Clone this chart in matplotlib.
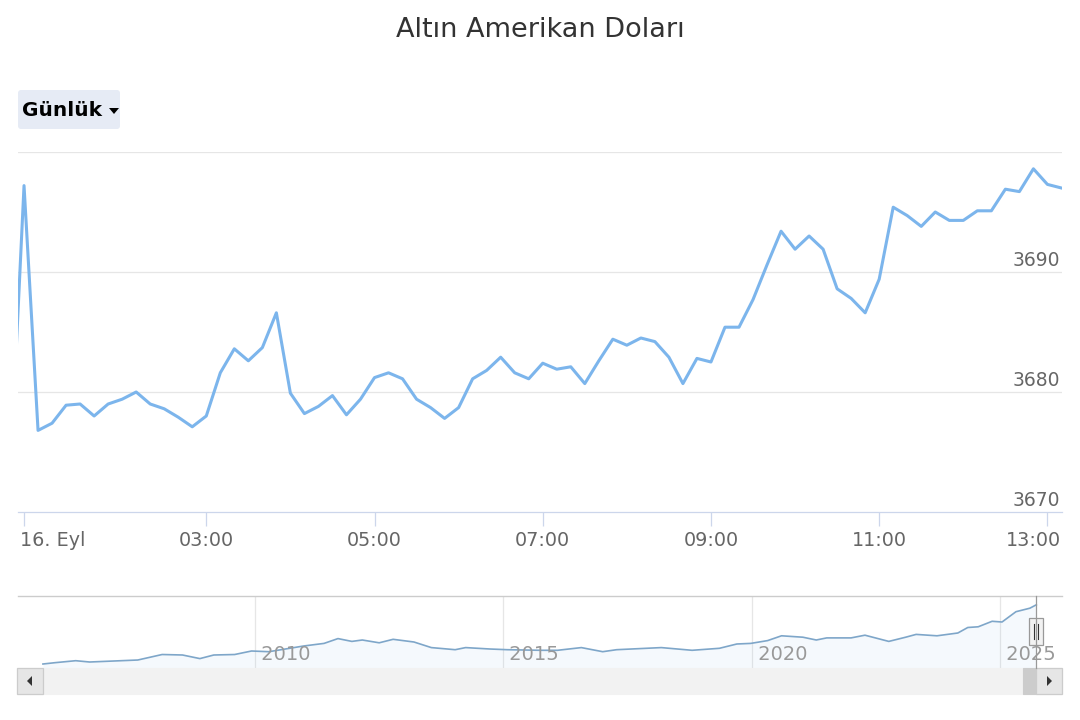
import numpy as np
import pandas as pd
import matplotlib
matplotlib.use("Agg")
import matplotlib.pyplot as plt
import matplotlib.transforms as mtrans
from matplotlib.patches import Rectangle, FancyBboxPatch, Polygon

# intraday gold price (USD/oz), 10-minute points, 16 Sep
price = [3672.7, 3697.2, 3676.8, 3677.4, 3678.9, 3679.0, 3678.0, 3679.0, 3679.4, 3680.0,
         3679.0, 3678.6, 3677.9, 3677.1, 3678.0, 3681.6, 3683.6, 3682.6, 3683.7, 3686.6,
         3679.9, 3678.2, 3678.8, 3679.7, 3678.1, 3679.4, 3681.2, 3681.6, 3681.1, 3679.4,
         3678.7, 3677.8, 3678.7, 3681.1, 3681.8, 3682.9, 3681.6, 3681.1, 3682.4, 3681.9,
         3682.1, 3680.7, 3682.6, 3684.4, 3683.9, 3684.5, 3684.2, 3682.9, 3680.7, 3682.8,
         3682.5, 3685.4, 3685.4, 3687.7, 3690.6, 3693.4, 3691.9, 3693.0, 3691.9, 3688.6,
         3687.8, 3686.6, 3689.4, 3695.4, 3694.7, 3693.8, 3695.0, 3694.3, 3694.3, 3695.1,
         3695.1, 3696.9, 3696.7, 3698.6, 3697.3, 3697.0]
times = pd.date_range("2025-09-16 00:40", periods=len(price), freq="10min")
tick_times = ["00:50", "03:00", "05:00", "07:00", "09:00", "11:00", "13:00"]
tick_labels = ["16. Eyl", "03:00", "05:00", "07:00", "09:00", "11:00", "13:00"]
y_ticks = [3670, 3680, 3690]

# navigator: long-run history (decimal year, USD/oz)
nav_year = [2005.73, 2005.97, 2006.39, 2006.67, 2007.64, 2008.13, 2008.54, 2008.89, 2009.17,
            2009.59, 2009.93, 2010.28, 2010.98, 2011.39, 2011.67, 2011.95, 2012.16, 2012.5,
            2012.78, 2013.2, 2013.55, 2014.03, 2014.24, 2014.73, 2015.08, 2015.75, 2016.09,
            2016.57, 2017.0, 2017.28, 2018.18, 2018.8, 2019.35, 2019.7, 2019.98, 2020.32,
            2020.6, 2021.03, 2021.3, 2021.51, 2022.0, 2022.28, 2022.76, 2023.1, 2023.31,
            2023.73, 2024.15, 2024.35, 2024.56, 2024.84, 2025.04, 2025.32, 2025.6, 2025.73]
nav_price = [450, 522, 632, 560, 670, 973, 946, 748, 946, 973, 1166, 1128, 1442, 1585, 1850,
             1695, 1772, 1618, 1810, 1662, 1354, 1238, 1354, 1276, 1238, 1205, 1205, 1354,
             1128, 1238, 1354, 1205, 1315, 1552, 1585, 1739, 2004, 1926, 1772, 1888, 1888,
             2037, 1695, 1926, 2081, 2004, 2158, 2461, 2500, 2803, 2764, 3331, 3524, 3711]
nav_years = [2010, 2015, 2020, 2025]

W, H = 1080, 720
fig = plt.figure(figsize=(W / 100, H / 100), dpi=100)
fig.patch.set_facecolor("white")

def fr(x0, y0, x1, y1):
    # pixel box -> figure fraction rect
    return [x0 / W, 1 - y1 / H, (x1 - x0) / W, (y1 - y0) / H]

LINE = "#7cb5ec"
GRID = "#e6e6e6"
LBL = "#666666"

# ---- main chart
ax = fig.add_axes(fr(18, 152, 1062, 512))
x = np.arange(len(price))
ax.plot(x, price, color=LINE, lw=2.2, solid_joinstyle="round", zorder=3)
ax.set_xlim(0.57, 75.04)
ax.set_ylim(3670, 3700)
ax.set_yticks([3680, 3690, 3700])
ax.yaxis.grid(True, color=GRID, lw=0.9)
ax.tick_params(axis="y", length=0, labelleft=False)
ax.set_axisbelow(True)
for s in ["top", "right", "left"]:
    ax.spines[s].set_visible(False)
ax.spines["bottom"].set_color("#ccd6eb")
ax.spines["bottom"].set_linewidth(0.9)

hhmm = list(times.strftime("%H:%M"))
tick_pos = [hhmm.index(t) for t in tick_times]
ax.set_xticks(tick_pos)
ax.set_xticklabels([])
ax.tick_params(axis="x", length=10, width=0.9, color="#ccd6eb")
# labels drawn by hand: first and last are nudged inside the plot like the original
xtr = mtrans.blended_transform_factory(ax.transData, ax.transAxes)
for i, (p, lab) in enumerate(zip(tick_pos, tick_labels)):
    ha, dx = "center", 0
    if i == 0:
        ha, dx = "left", -3
    elif i == len(tick_pos) - 1:
        ha, dx = "right", 10
    ax.annotate(lab, xy=(p, 0), xycoords=xtr, xytext=(dx, -14), textcoords="offset points",
                ha=ha, va="top", fontsize=13.8, color=LBL)

tr = mtrans.blended_transform_factory(ax.transAxes, ax.transData)
for v in y_ticks:
    ax.annotate(str(v), xy=(0.9985, v), xycoords=tr, xytext=(0, 1.2), textcoords="offset points",
                ha="right", va="bottom", fontsize=13.5, color=LBL)

# ---- navigator
nav = fig.add_axes(fr(18, 596, 1062, 668))
nav.fill_between(nav_year, nav_price, 0, color=LINE, alpha=0.07, lw=0)
nav.plot(nav_year, nav_price, color="#7ea6c9", lw=1.2)
nav.set_xlim(2005.228, 2026.247)
nav.set_ylim(230, 4196)
nav.set_xticks(nav_years)
nav.xaxis.grid(True, color=GRID, lw=0.9)
nav.set_axisbelow(True)
nav.tick_params(length=0, labelbottom=False, labelleft=False)
for s in ["bottom", "right", "left"]:
    nav.spines[s].set_visible(False)
nav.spines["top"].set_color("#cccccc")
nav.spines["top"].set_linewidth(1.0)
for yr in nav_years:
    nav.text(yr, 0.05, f" {yr}", transform=mtrans.blended_transform_factory(nav.transData, nav.transAxes),
             ha="left", va="bottom", fontsize=14, color="#999999", zorder=4)

# ---- UI overlay: range button, handle, scrollbar
ui = fig.add_axes([0, 0, 1, 1], zorder=5)
ui.set_xlim(0, W); ui.set_ylim(H, 0); ui.axis("off")
ui.patch.set_alpha(0)

ui.add_patch(FancyBboxPatch((18, 90), 102, 39, boxstyle="round,pad=0,rounding_size=3",
                            fc="#e6ebf5", ec="none"))
ui.text(22, 110.5, "Günlük", fontsize=14.5, fontweight="bold", color="#000000", ha="left", va="center")
ui.add_patch(Polygon([[109, 108], [119, 108], [114, 114]], closed=True, fc="#000000", ec="none"))

# navigator selection edge + handle
ui.plot([1036, 1036], [596, 668], color="#999999", lw=0.9)
ui.add_patch(Rectangle((1028.5, 618), 14, 27, fc="#f2f2f2", ec="#999999", lw=0.9))
ui.plot([1034, 1034], [624, 639], color="#333333", lw=0.8)
ui.plot([1037.5, 1037.5], [624, 639], color="#333333", lw=0.8)

# scrollbar
ui.add_patch(Rectangle((17, 668), 1045, 26, fc="#f2f2f2", ec="#f2f2f2", lw=0.8))
ui.add_patch(Rectangle((17, 668), 26, 26, fc="#e6e6e6", ec="#cccccc", lw=0.9))
ui.add_patch(Polygon([[27, 681], [32, 676], [32, 686]], closed=True, fc="#333333", ec="none"))
ui.add_patch(Rectangle((1023, 668), 13, 26, fc="#cccccc", ec="#cccccc", lw=0.8))
ui.add_patch(Rectangle((1036, 668), 26, 26, fc="#e6e6e6", ec="#cccccc", lw=0.9))
ui.add_patch(Polygon([[1052, 681], [1047, 676], [1047, 686]], closed=True, fc="#333333", ec="none"))

fig.text(0.5, 1 - 30 / H, "Altın Amerikan Doları", ha="center", va="center", fontsize=19.5, color="#333333")

fig.savefig("out.png", dpi=100, facecolor="white")
